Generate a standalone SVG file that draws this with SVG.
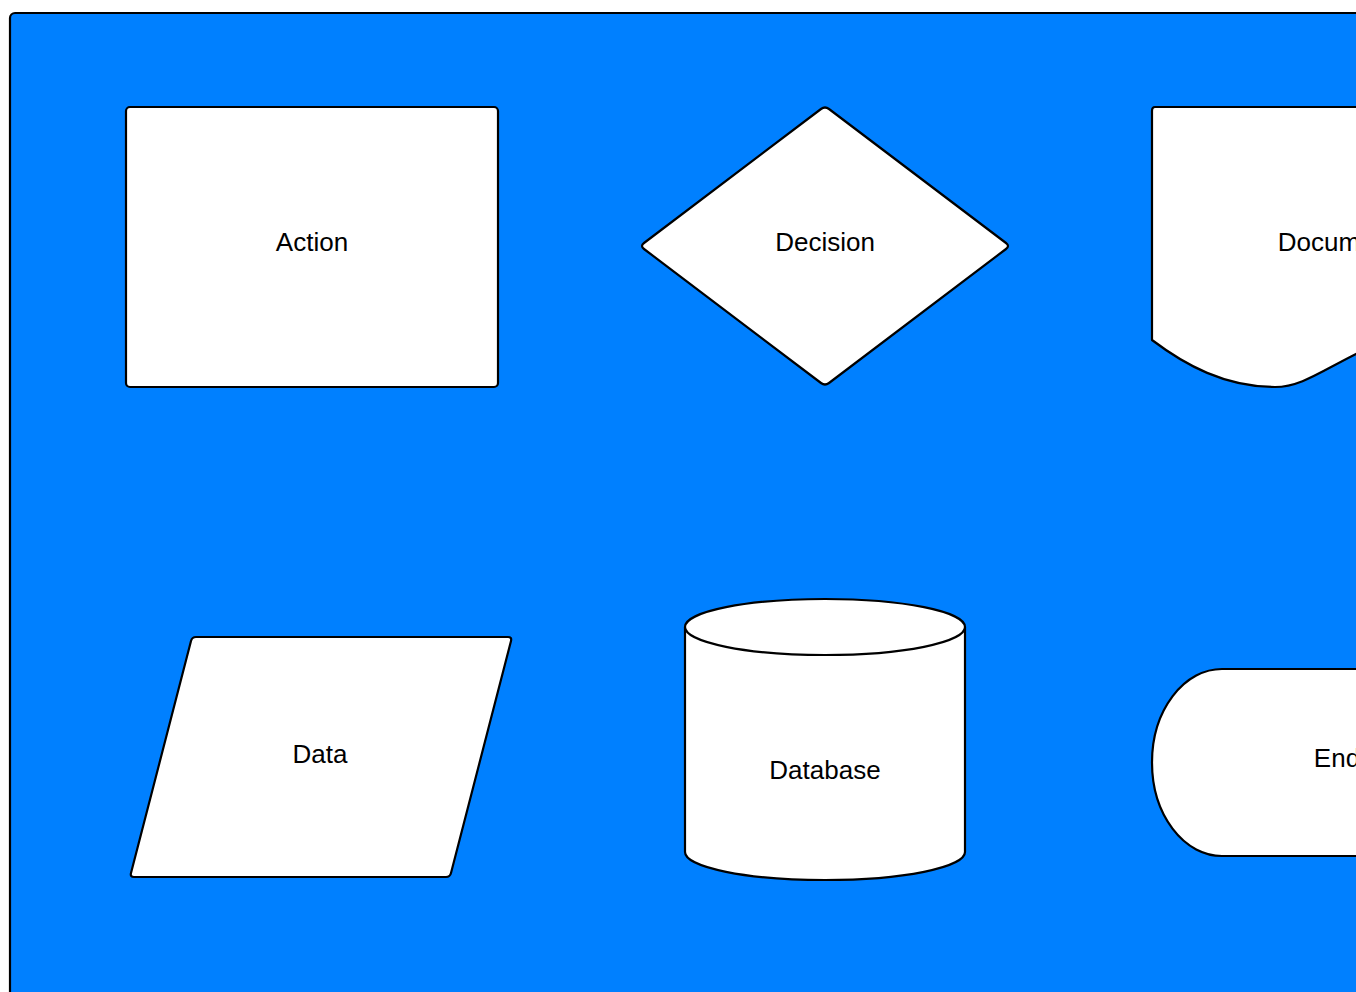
<svg xmlns="http://www.w3.org/2000/svg" width="1356" height="992" viewBox="0 0 1356 992">
<style>
.shape{fill:#ffffff;stroke:#000000;stroke-width:2.2;stroke-linejoin:round}
.label{font-family:"Liberation Sans",Arial,sans-serif;font-size:26px;fill:#000000;text-anchor:middle}
</style>
<rect x="0" y="0" width="1356" height="992" fill="#ffffff"/>
<g id="background">
<rect x="10" y="13" width="1400" height="1020" rx="5" ry="5" fill="#0080ff" stroke="#000000" stroke-width="2.2"/>
</g>
<g id="connectors"></g>
<g id="action">
<rect class="shape" x="126" y="107" width="372" height="280" rx="4" ry="4"/>
<text class="label" x="312" y="251">Action</text>
</g>
<g id="decision">
<path class="shape" d="M829,109 L1006,243 Q1010,246 1006,249 L829,383 Q825,386 821,383 L644,249 Q640,246 644,243 L821,109 Q825,106 829,109 Z"/>
<text class="label" x="825" y="251">Decision</text>
</g>
<g id="document">
<path class="shape" d="M1155,107 H1526 V330 C1450,320 1400,333 1356,354 C1320,372 1300,387 1275,387 C1225,387 1185,365 1152,340 V111 Q1152,107 1155,107 Z"/>
<text class="label" x="1337" y="251">Document</text>
</g>
<g id="data">
<path class="shape" d="M196,637 H508 Q512,637 511,641 L451,873 Q450,877 446,877 H134 Q130,877 131,873 L191,641 Q192,637 196,637 Z"/>
<text class="label" x="320" y="763">Data</text>
</g>
<g id="database">
<path class="shape" d="M685,627 A140,28 0 0 1 965,627 V852 A140,28 0 0 1 685,852 Z"/>
<path class="shape" d="M685,627 A140,28 0 0 0 965,627" fill="none"/>
<text class="label" x="825" y="779">Database</text>
</g>
<g id="end">
<path class="shape" d="M1222,669 H1456 A70,93.5 0 0 1 1456,856 H1222 A70,93.5 0 0 1 1222,669 Z"/>
<text class="label" x="1337" y="767">End</text>
</g>
</svg>
